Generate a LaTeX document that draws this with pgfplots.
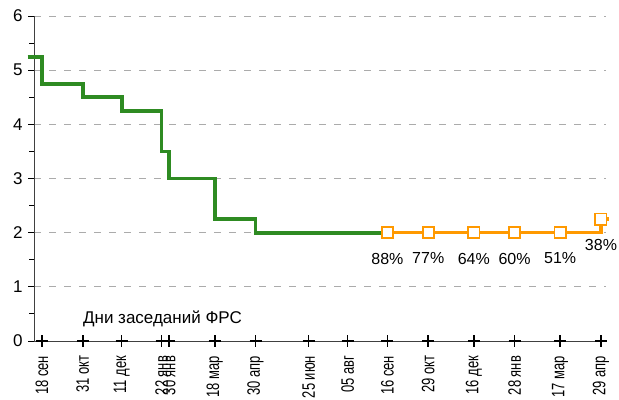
\documentclass[border=0pt]{standalone}
\usepackage{fontspec}
\setmainfont{Liberation Sans}
\usepackage{pgfplots}
\pgfplotsset{compat=1.18}
\definecolor{fedgreen}{RGB}{46,139,34}
\definecolor{fcorange}{RGB}{255,153,0}
\begin{document}
\begin{tikzpicture}
\begin{axis}[
  scale only axis, width=572bp, height=325bp,
  xmin=-8.4, xmax=594.3, ymin=0, ymax=6,
  axis x line=bottom, axis y line=left,
  axis line style={-, line width=0.9bp, black!75},
  clip=false,
  tick align=outside,
  ytick={0,1,2,3,4,5,6},
  minor ytick={0.5,1.5,2.5,3.5,4.5,5.5},
  major tick length=6bp, minor tick length=4.5bp,
  ytick style={line width=0.9bp, black},
  yticklabel style={font=\fontsize{17bp}{19bp}\selectfont, xshift=-2bp},
  /pgf/number format/assume math mode=true,
  ymajorgrids,
  major grid style={black!33, dash pattern=on 7bp off 8bp, line width=0.9bp},
  xtick={0,43,84,126,134,182,225,281,322,364,407,455,498,546,589},
  xticklabels={18 сен,31 окт,11 дек,22 янв,30 янв,18 мар,30 апр,25 июн,05 авг,16 сен,29 окт,16 дек,28 янв,17 мар,29 апр},
  major x tick style={draw=none},
  xticklabel style={rotate=90, xscale=0.72, anchor=east, font=\fontsize{18bp}{20bp}\selectfont, xshift=-9bp},
]
% green: actual Fed funds target
\addplot[const plot, fedgreen, line width=3.8bp] coordinates {
  (-15,5.25) (0,4.75) (43,4.5) (84,4.25) (126,3.5) (134,3.0) (182,2.25) (225,2.0) (364,2.0)
};
% orange: futures expectations
\addplot[const plot, fcorange, line width=3.5bp] coordinates {
  (364,2.0) (407,2.0) (455,2.0) (498,2.0) (546,2.0) (589,2.25) (597,2.25)
};
\addplot[only marks, mark=square*, mark size=5.6bp, mark options={fill=white, draw=fcorange, line width=1.8bp},
  nodes near coords, point meta=explicit symbolic,
  every node near coord/.style={anchor=north, yshift=-16bp, font=\fontsize{16bp}{18bp}\selectfont, text=black}]
  table[meta=lab] {
x y lab
364 2.0 88\%
407 2.0 77\%
455 2.0 64\%
498 2.0 60\%
546 2.0 51\%
589 2.25 38\%
};
% cross ticks on the x axis
\addplot[only marks, mark=+, mark size=6bp, mark options={line width=1.6bp, black}] coordinates {
  (0,0) (43,0) (84,0) (126,0) (134,0) (182,0) (225,0) (281,0) (322,0) (364,0) (407,0) (455,0) (498,0) (546,0) (589,0)
};
\node[font=\fontsize{17bp}{19bp}\selectfont] at (axis cs:127,0.4) {Дни заседаний ФРС};
\end{axis}
\pgfresetboundingbox
\path[use as bounding box] (-34bp,-59bp) rectangle (585bp,341bp);
\end{tikzpicture}
\end{document}
